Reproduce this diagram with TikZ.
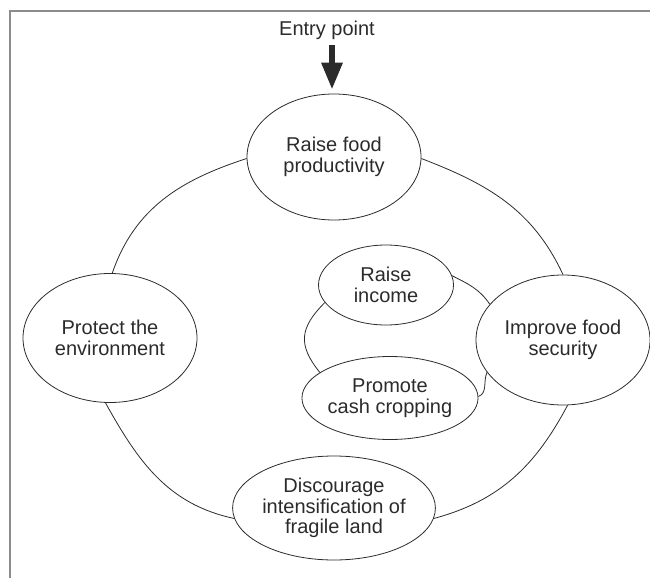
\documentclass[tikz,border=0pt]{standalone}
\usepackage{fontspec}
\setmainfont{Liberation Sans}
\usetikzlibrary{shapes.geometric,arrows.meta}
\definecolor{ink}{HTML}{2B2B2B}
\definecolor{frame}{HTML}{8C8C8C}
\begin{document}
\begin{tikzpicture}[x=1pt,y=-1pt,
  bubble/.style={ellipse,draw=ink,line width=0.8pt,inner sep=0pt,align=center,
    text=ink,font=\fontsize{20}{20.5}\selectfont},
  link/.style={draw=ink,line width=0.8pt},
  entry/.style={draw=ink,line width=6pt,-{Triangle[width=20pt,length=27pt]},shorten >=4pt},
  framel/.style={draw=frame,line width=1.6pt}]
\useasboundingbox (0,0) rectangle (650,578);
\draw[framel] (10,578) -- (10,11) -- (650,11);

\node[text=ink,font=\fontsize{20}{20.5}\selectfont] (ep) at (327,30) {Entry point};

\node[bubble,minimum width=174pt,minimum height=126pt] (rfp) at (334,157) {Raise food\\productivity};
\node[bubble,minimum width=174pt,minimum height=129pt] (pe) at (110,338) {Protect the\\environment};
\node[bubble,minimum width=174pt,minimum height=130pt] (ifs) at (563,340) {Improve food\\security};
\node[bubble,minimum width=175pt,minimum height=104pt] (d) at (334,508) {Discourage\\intensification of\\fragile land};
\node[bubble,minimum width=135pt,minimum height=80pt] (ri) at (386,285) {Raise\\income};
\node[bubble,minimum width=147pt,minimum height=83pt] (p) at (390,398) {Promote\\cash cropping};

\coordinate (a0) at (332,45);
\draw[entry] (a0) -- (a0 |- rfp.north);

\draw[link] (rfp.181) to[out=198,in=71] (pe.88);
\draw[link] (rfp.359) to[out=-21,in=115] (ifs.90);
\draw[link] (pe.266) to[out=-61,in=168] (d.186);
\draw[link] (ifs.274) to[out=242,in=15] (d.354);

\draw[link] (ri.8) to[out=-27,in=124] (ifs.154);
\draw[link] (ifs.203) to[out=246,in=20] (p.1);
\draw[link] (ri.196) to[out=225,in=129,looseness=1.3] (p.160);
\end{tikzpicture}
\end{document}
